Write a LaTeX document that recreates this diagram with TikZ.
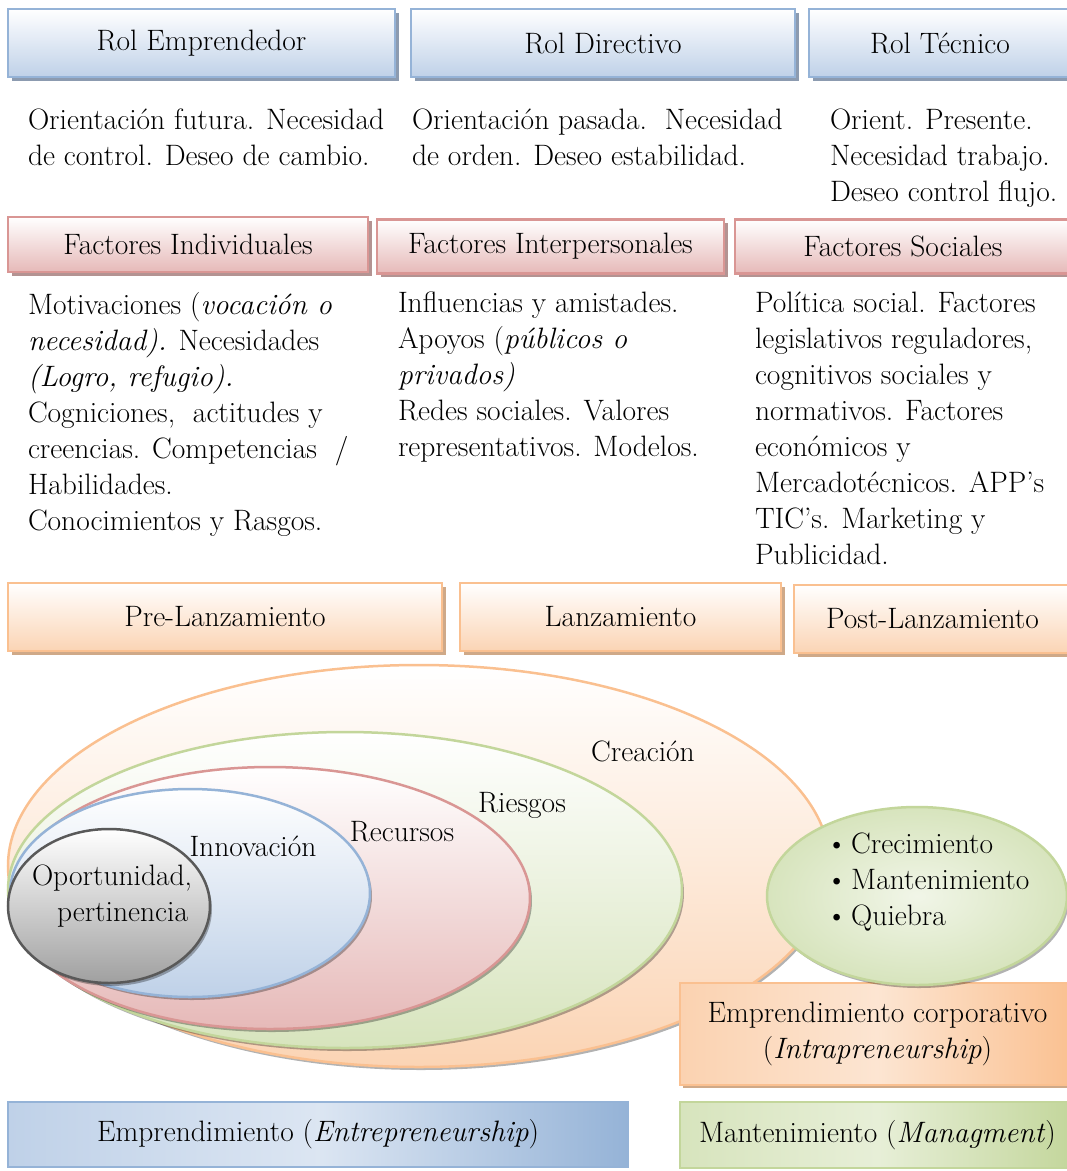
\documentclass[tikz,border=0pt]{standalone}
\usepackage{fontspec}
\usetikzlibrary{shapes.geometric,shadows}
\definecolor{blueline}{HTML}{95B3D7}
\definecolor{bluefill}{HTML}{BFD1E8}
\definecolor{blueshadow}{HTML}{8C9BB0}
\definecolor{redline}{HTML}{D99694}
\definecolor{redfill}{HTML}{E6B9B8}
\definecolor{redshadow}{HTML}{B39392}
\definecolor{orangeline}{HTML}{FAC090}
\definecolor{orangefill}{HTML}{FBD4B4}
\definecolor{orangeshadow}{HTML}{CFA988}
\definecolor{greenline}{HTML}{C3D69B}
\definecolor{greenfill}{HTML}{D7E4BD}
\definecolor{grayline}{HTML}{595959}
\definecolor{grayfill}{HTML}{A0A0A0}

\begin{document}
\begin{tikzpicture}[x=1pt,y=-1pt,
  every node/.style={font=\fontsize{29.5}{36}\selectfont, inner sep=0pt, outer sep=0pt},
  txt/.style={anchor=north west, align=left},
  sz/.style 2 args={minimum width=#1pt, minimum height=#2pt},
  boxbase/.style={rectangle, line width=2.5pt},
  bluebox/.style={boxbase, draw=blueline, top color=white, bottom color=bluefill,
    drop shadow={shadow xshift=3.5pt, shadow yshift=-3.5pt, fill=blueshadow, opacity=1}},
  redbox/.style={boxbase, draw=redline, top color=white, bottom color=redfill,
    drop shadow={shadow xshift=3.5pt, shadow yshift=-3.5pt, fill=redshadow, opacity=1}},
  orangebox/.style={boxbase, draw=orangeline, top color=white, bottom color=orangefill,
    drop shadow={shadow xshift=3.5pt, shadow yshift=-3.5pt, fill=orangeshadow, opacity=1}},
  ell/.style={ellipse, line width=2.5pt,
    drop shadow={shadow xshift=2pt, shadow yshift=-3pt, fill=black, opacity=0.3}},
]
\useasboundingbox (0,0) rectangle (1067,1171);
\clip (0,0) rectangle (1067,1171);

% roles
\node[bluebox, sz={387}{68}] (rolemp) at (201.5,43) {Rol Emprendedor};
\node[bluebox, sz={384}{68}] (roldir) at (603,43) {Rol Directivo};
\node[bluebox, sz={262}{68}] (roltec) at (940,43) {Rol Técnico};

\node[txt] (temp) at (28,109) {Orientación futura. Necesidad\\de control. Deseo de cambio.};
\node[txt] (tdir) at (412,109) {Orientación pasada.\ \ Necesidad\\de orden. Deseo estabilidad.};
\node[txt] (ttec) at (830,109) {Orient. Presente.\\Necesidad trabajo.\\Deseo control flujo.};

% factors
\node[redbox, sz={360}{55}] (find) at (188,244.5) {Factores Individuales};
\node[redbox, sz={347}{54}] (fint) at (550.5,246.5) {Factores Interpersonales};
\node[redbox, sz={336}{54}] (fsoc) at (903,246.5) {Factores Sociales};

\node[txt] (tind) at (28,292) {Motivaciones (\textit{vocación o}\\\textit{necesidad).} Necesidades\\\textit{(Logro, refugio).}\\Cogniciones,\ \ actitudes y\\creencias. Competencias\ \ /\\Habilidades.\\Conocimientos y Rasgos.};
\node[txt] (tint) at (398,292) {Influencias y amistades.\\Apoyos (\textit{públicos o}\\\textit{privados)}\\Redes sociales. Valores\\representativos. Modelos.};
\node[txt] (tsoc) at (755,292) {Política social. Factores\\legislativos reguladores,\\cognitivos sociales y\\normativos. Factores\\económicos y\\Mercadotécnicos. APP’s\\TIC’s. Marketing y\\Publicidad.};

% stages
\node[orangebox, sz={434}{68}] (pre) at (225,617) {Pre-Lanzamiento};
\node[orangebox, sz={321}{68}] (lan) at (620.5,617) {Lanzamiento};
\node[orangebox, sz={277}{68}] (post) at (932.5,619) {Post-Lanzamiento};

% nested ellipses
\node[ell, draw=orangeline, top color=white, bottom color=orangefill,
  minimum width=822pt, minimum height=402pt] (creacion) at (419,866) {};
\node[ell, draw=greenline, top color=white, bottom color=greenfill,
  minimum width=674pt, minimum height=316pt] (riesgos) at (345,890) {};
\node[ell, draw=redline, top color=white, bottom color=redfill,
  minimum width=520pt, minimum height=262pt] (recursos) at (270,898) {};
\node[ell, draw=blueline, top color=white, bottom color=bluefill,
  minimum width=360pt, minimum height=208pt] (innov) at (190,893) {};
\node[ell, draw=grayline, top color=white, bottom color=grayfill,
  minimum width=202pt, minimum height=154pt] (oport) at (109,906) {};

\node (lcreacion) at (643,751) {Creación};
\node (lriesgos) at (522,805) {Riesgos};
\node (lrecursos) at (402,832) {Recursos};
\node (linnov) at (253,846) {Innovación};
\node[txt] (loport) at (32,865) {Oportunidad,\\\hspace*{25pt}pertinencia};

% corporate entrepreneurship
\node[boxbase, draw=orangeline, sz={395}{102}, left color=orangefill!90!orangeline,
  right color=orangeline, middle color=orangefill!60!white, align=center,
  drop shadow={shadow xshift=3pt, shadow yshift=-3pt, fill=orangeshadow, opacity=1}] (corp)
  at (877.5,1034) {Emprendimiento corporativo\\(\textit{Intrapreneurship})};

% outcomes
\node[ell, draw=greenline, inner color=greenfill!35!white, outer color=greenfill,
  minimum width=300pt, minimum height=178pt] (fases) at (917,896) {};
\node[txt, anchor=west] (lfases) at (826,882)
  {\textbullet\hspace{4pt}Crecimiento\\\textbullet\hspace{4pt}Mantenimiento\\\textbullet\hspace{4pt}Quiebra};

% bottom labels
\node[boxbase, draw=blueline, sz={620}{65}, left color=bluefill, right color=blueline,
  middle color=bluefill!55!white] (entre) at (318,1134.5) {Emprendimiento (\textit{Entrepreneurship})};
\node[boxbase, draw=greenline, sz={395}{66}, left color=greenfill, right color=greenline,
  middle color=greenfill!60!white] (mant) at (877.5,1135) {Mantenimiento (\textit{Managment})};
\end{tikzpicture}
\end{document}
